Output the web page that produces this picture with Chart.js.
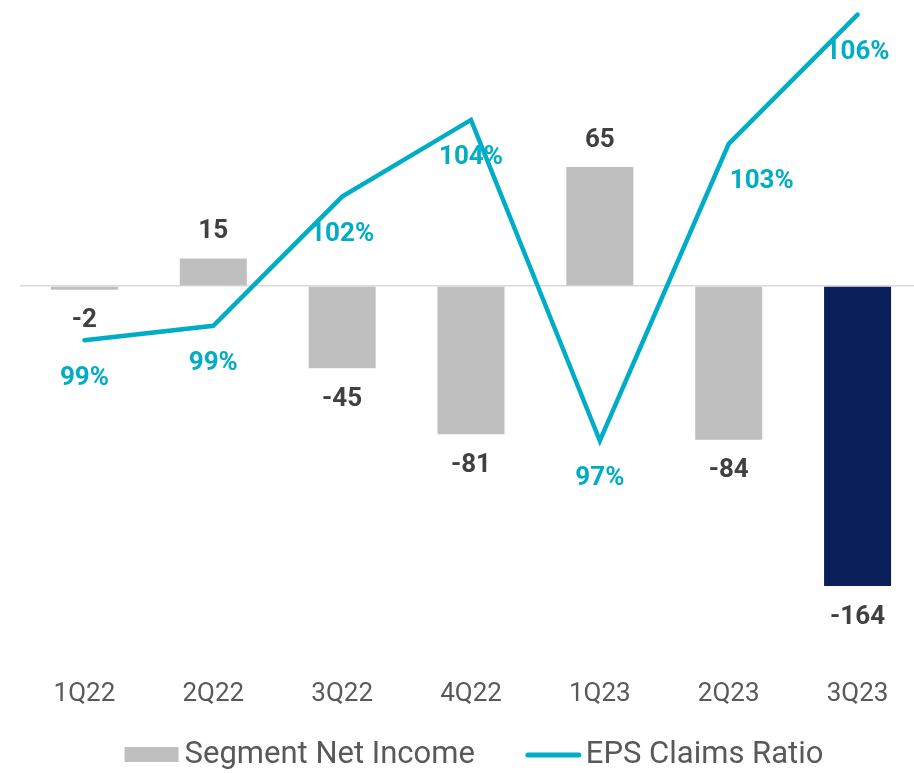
<!DOCTYPE html>
<html>
<head>
<meta charset="utf-8">
<script src="https://cdn.jsdelivr.net/npm/chart.js@4.4.0/dist/chart.umd.min.js"></script>
<style>
  html, body { margin: 0; padding: 0; background: #fff; overflow: hidden; }
  #wrap { width: 922px; height: 773px; }
</style>
</head>
<body>
<div id="wrap"><canvas id="chart" width="922" height="773"></canvas></div>
<script>
const quarters = ['1Q22', '2Q22', '3Q22', '4Q22', '1Q23', '2Q23', '3Q23'];
const segmentNetIncome = [-2, 15, -45, -81, 65, -84, -164];
const epsClaimsRatio = [99.1, 99.4, 102.1, 103.7, 97.0, 103.2, 105.9];
const ratioLabels = ['99%', '99%', '102%', '104%', '97%', '103%', '106%'];
const seriesNames = ['Segment Net Income', 'EPS Claims Ratio'];

const GREY = '#BFBFBF';
const NAVY = '#0B1F5B';
const CYAN = '#00ADC6';
const TEXT = '#595959';

// bar + line value labels
const valueLabels = {
  id: 'valueLabels',
  afterDatasetsDraw(chart) {
    const ctx = chart.ctx;
    ctx.save();
    ctx.textAlign = 'center';
    ctx.textBaseline = 'middle';
    ctx.font = 'bold 26px Roboto';

    ctx.fillStyle = '#404040';
    chart.getDatasetMeta(0).data.forEach((bar, i) => {
      const v = segmentNetIncome[i];
      const y = v >= 0 ? bar.y - 27 : bar.y + 31;
      ctx.fillText(String(v), bar.x, y);
    });

    const shiftX = [0, 0, 0, 0, 0, 33, 0];
    ctx.fillStyle = CYAN;
    chart.getDatasetMeta(1).data.forEach((pt, i) => {
      ctx.fillText(ratioLabels[i], pt.x + shiftX[i], pt.y + 38);
    });
    ctx.restore();
  }
};

// simple legend at the bottom
const bottomLegend = {
  id: 'bottomLegend',
  afterDraw(chart) {
    const ctx = chart.ctx;
    ctx.save();
    ctx.font = '31px Roboto';
    ctx.textBaseline = 'middle';
    ctx.textAlign = 'left';
    const y = 755;
    const w1 = ctx.measureText(seriesNames[0]).width;
    const w2 = ctx.measureText(seriesNames[1]).width;
    const total = 54 + 6 + w1 + 51 + 55 + 5 + w2;
    let x = 474 - total / 2;

    ctx.fillStyle = GREY;
    ctx.fillRect(x, y - 8, 54, 15);
    x += 60;
    ctx.fillStyle = TEXT;
    ctx.fillText(seriesNames[0], x, y);
    x += w1 + 51;

    ctx.strokeStyle = CYAN;
    ctx.lineWidth = 5;
    ctx.lineCap = 'round';
    ctx.beginPath();
    ctx.moveTo(x + 2, y);
    ctx.lineTo(x + 53, y);
    ctx.stroke();
    x += 60;
    ctx.fillText(seriesNames[1], x, y);
    ctx.restore();
  }
};

new Chart(document.getElementById('chart'), {
  data: {
    labels: quarters,
    datasets: [
      {
        type: 'bar',
        label: seriesNames[0],
        data: segmentNetIncome,
        backgroundColor: segmentNetIncome.map((v, i) => i === segmentNetIncome.length - 1 ? NAVY : GREY),
        barPercentage: 0.52,
        categoryPercentage: 1,
        yAxisID: 'y'
      },
      {
        type: 'line',
        label: seriesNames[1],
        data: epsClaimsRatio,
        borderColor: CYAN,
        borderWidth: 4.5,
        borderCapStyle: 'round',
        borderJoinStyle: 'miter',
        pointRadius: 0,
        tension: 0,
        yAxisID: 'y2'
      }
    ]
  },
  options: {
    responsive: false,
    animation: false,
    layout: { padding: { left: 20, right: 0, top: 5, bottom: 47 } },
    plugins: {
      tooltip: { enabled: false },
      legend: { display: false }
    },
    scales: {
      x: {
        offset: true,
        grid: { display: false },
        border: { display: false },
        ticks: {
          color: TEXT,
          padding: 16,
          font: { family: 'Roboto', size: 26 }
        }
      },
      y: {
        display: true,
        min: -201.6,
        max: 153.6,
        ticks: { display: false, stepSize: 50 },
        border: { display: false },
        grid: {
          drawTicks: false,
          lineWidth: 1.5,
          color: ctx => ctx.tick && ctx.tick.value === 0 ? '#D9D9D9' : 'rgba(0,0,0,0)'
        }
      },
      y2: {
        display: false,
        position: 'right',
        min: 92.53,
        max: 106.1
      }
    }
  },
  plugins: [valueLabels, bottomLegend]
});
</script>
</body>
</html>
